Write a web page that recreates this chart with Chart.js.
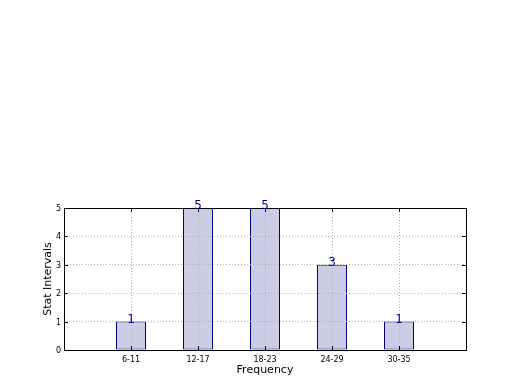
<!DOCTYPE html>
<html>
<head>
<meta charset="utf-8">
<script src="https://cdn.jsdelivr.net/npm/chart.js@4/dist/chart.umd.min.js"></script>
<style>
  html, body { margin: 0; padding: 0; background: #ffffff; }
  #wrap { width: 520px; height: 390px; }
</style>
</head>
<body>
<div id="wrap"><canvas id="c" width="520" height="390"></canvas></div>
<script>
// Data
const categories = ['6-11', '12-17', '18-23', '24-29', '30-35'];
const counts = [1, 5, 5, 3, 1];
const yTicks = [0, 1, 2, 3, 4, 5];
const xTitle = 'Frequency';
const yTitle = 'Stat Intervals';

// The axis spans one empty slot on each side of the categories
const labels = [''].concat(categories, ['']);
const values = [null].concat(counts, [null]);

const FONT = 'DejaVu Sans';

const framePlugin = {
  id: 'frame',
  afterDraw(chart) {
    const { ctx, chartArea: a, scales } = chart;
    ctx.save();
    ctx.strokeStyle = '#000000';
    ctx.lineWidth = 1;
    // inward tick marks
    ctx.beginPath();
    scales.x.ticks.forEach((t, i) => {
      if (!labels[i]) return;
      const px = Math.round(scales.x.getPixelForTick(i)) + 0.5;
      ctx.moveTo(px, a.bottom); ctx.lineTo(px, a.bottom - 4);
      ctx.moveTo(px, a.top); ctx.lineTo(px, a.top + 4);
    });
    yTicks.forEach(v => {
      const py = Math.round(scales.y.getPixelForValue(v)) + 0.5;
      ctx.moveTo(a.left, py); ctx.lineTo(a.left + 4, py);
      ctx.moveTo(a.right, py); ctx.lineTo(a.right - 4, py);
    });
    ctx.stroke();
    // frame
    ctx.strokeRect(Math.round(a.left) + 0.5, Math.round(a.top) + 0.5,
                   Math.round(a.right - a.left), Math.round(a.bottom - a.top));
    ctx.restore();
  }
};

const valueLabelPlugin = {
  id: 'valueLabels',
  afterDraw(chart) {
    const { ctx } = chart;
    const meta = chart.getDatasetMeta(0);
    ctx.save();
    ctx.fillStyle = '#000080';
    ctx.font = '12px "' + FONT + '"';
    ctx.textAlign = 'center';
    ctx.textBaseline = 'alphabetic';
    meta.data.forEach((bar, i) => {
      const v = values[i];
      if (v === null || v === undefined) return;
      ctx.fillText(String(v), bar.x, bar.y + 1);
    });
    ctx.restore();
  }
};

new Chart(document.getElementById('c'), {
  type: 'bar',
  data: {
    labels: labels,
    datasets: [{
      data: values,
      backgroundColor: 'rgb(204,204,229)',
      borderColor: '#000080',
      borderWidth: 1,
      borderSkipped: false,
      inflateAmount: 0,
      barThickness: 30
    }]
  },
  options: {
    responsive: false,
    animation: false,
    devicePixelRatio: 1,
    layout: { padding: { left: 0, right: 54, top: 208, bottom: 0 } },
    plugins: {
      legend: { display: false },
      tooltip: { enabled: false }
    },
    scales: {
      x: {
        type: 'category',
        offset: false,
        grid: {
          offset: false,
          color: '#b0b0b0',
          lineWidth: 1,
          drawTicks: false,
          z: 1
        },
        border: { display: false, dash: [1, 2] },
        ticks: {
          color: '#000000',
          font: { family: FONT, size: 8 },
          padding: 5,
          maxRotation: 0,
          autoSkip: false
        },
        title: {
          display: true,
          text: xTitle,
          color: '#000000',
          font: { family: FONT, size: 11 },
          padding: { top: 0, bottom: 13 }
        },
        afterFit(scale) { scale.height = 40; }
      },
      y: {
        min: 0,
        max: 5,
        afterBuildTicks(scale) { scale.ticks = yTicks.map(v => ({ value: v })); },
        grid: {
          color: '#b0b0b0',
          lineWidth: 1,
          drawTicks: false,
          z: 1
        },
        border: { display: false, dash: [1, 2] },
        ticks: {
          color: '#000000',
          font: { family: FONT, size: 8 },
          padding: 3,
          labelOffset: 1
        },
        title: {
          display: true,
          text: yTitle,
          color: '#000000',
          font: { family: FONT, size: 11 },
          padding: { top: 42, bottom: 0 }
        },
        afterFit(scale) { scale.width = 64; }
      }
    }
  },
  plugins: [framePlugin, valueLabelPlugin]
});
</script>
</body>
</html>
